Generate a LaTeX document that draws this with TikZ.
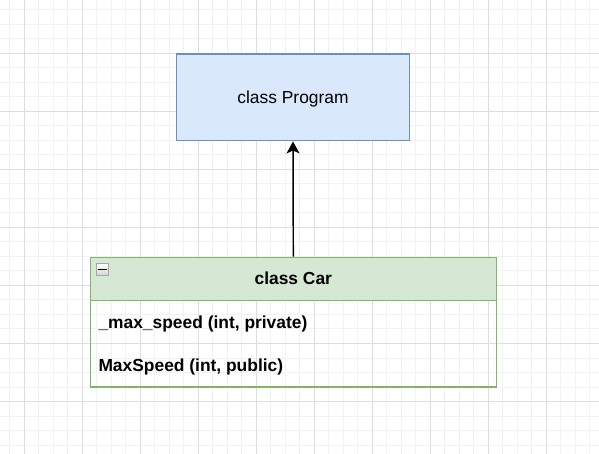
\documentclass[tikz,border=0pt]{standalone}
\usepackage{fontspec}
\setmainfont{Liberation Sans}
\usetikzlibrary{arrows.meta}
\definecolor{progfill}{HTML}{DAE8FC}
\definecolor{progline}{HTML}{6C8EBF}
\definecolor{carfill}{HTML}{D5E8D4}
\definecolor{carline}{HTML}{82B366}
\definecolor{gridminor}{HTML}{F2F2F2}
\definecolor{gridmajor}{HTML}{DEDEDE}

\begin{document}
\begin{tikzpicture}[x=1pt, y=-1pt,
    txt/.style={font=\fontsize{17.4}{20}\selectfont, inner sep=0pt},
    boldtxt/.style={font=\fontsize{17.4}{20}\selectfont\bfseries, inner sep=0pt}]
    \useasboundingbox[fill=white] (0,0) rectangle (599,454);
    % グリッド
    \foreach \x in {0,...,40}
      \draw[gridminor, line width=1pt] (9.49+14.51*\x,0) -- (9.49+14.51*\x,454);
    \foreach \y in {0,...,31}
      \draw[gridminor, line width=1pt] (0,9.77+14.51*\y) -- (599,9.77+14.51*\y);
    \foreach \x in {0,...,10}
      \draw[gridmajor, line width=1pt] (24+58.04*\x,0) -- (24+58.04*\x,454);
    \foreach \y in {-1,...,7}
      \draw[gridmajor, line width=1pt] (0,53.3+58.04*\y) -- (599,53.3+58.04*\y);

    % ノード
    \node[txt, draw=progline, fill=progfill, line width=1.45pt, minimum width=232.6pt, minimum height=86.7pt, text height=12pt, text depth=0.2pt] (prog) at (293, 97.4) {class Program};
    \node[boldtxt, draw=carline, fill=carfill, line width=1.45pt, minimum width=406pt, minimum height=43.4pt, text height=12pt, text depth=2pt] (carhead) at (293.3, 279) {class Car};
    \node[draw=carline, line width=1.45pt, minimum width=406pt, minimum height=86.3pt, inner sep=0pt] (carbody) at (293.3, 343.85) {};
    \node[boldtxt, anchor=base west] (maxspeed) at (98.3, 328) {\_max\_speed (int, private)};
    \node[boldtxt, anchor=base west] (speedprop) at (98.3, 371.7) {MaxSpeed (int, public)};

    % 折りたたみアイコン
    \node[draw=gray!70, top color=white, bottom color=gray!35, line width=1pt, minimum width=12.5pt, minimum height=12.5pt, inner sep=0pt] (fold) at (102.5, 269.5) {};
    \draw[black, line width=1.3pt] ([xshift=2.5pt]fold.west) -- ([xshift=-2.5pt]fold.east);

    % エッジ
    \draw[line width=1.45pt, -{Stealth[length=12pt, width=13pt, inset=3pt]}] (carhead.north) -- (prog.south);
  \end{tikzpicture}
\end{document}
